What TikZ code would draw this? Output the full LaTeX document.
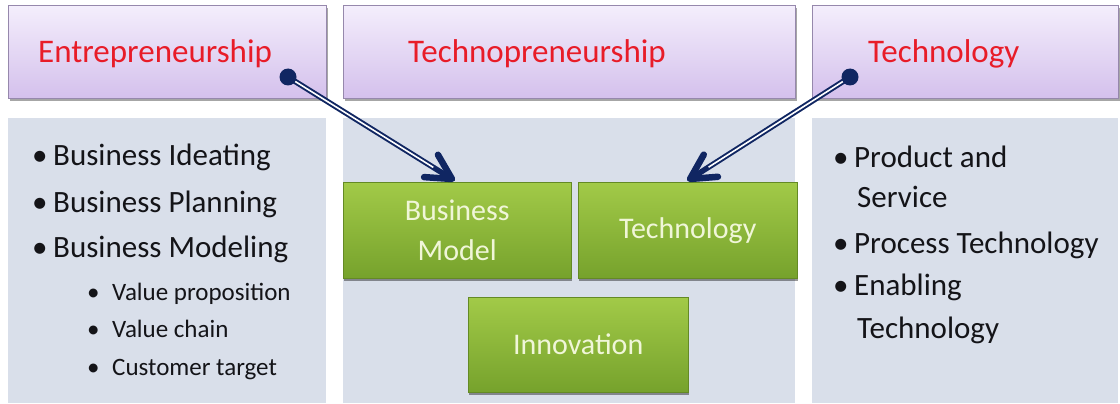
\documentclass[tikz,border=0pt]{standalone}
\usepackage{fontspec}
\setmainfont{Carlito}
\usetikzlibrary{shadows,calc}
\definecolor{navy}{RGB}{16,38,98}
\definecolor{hdrred}{RGB}{232,28,40}
\definecolor{hdrtop}{RGB}{244,238,252}
\definecolor{hdrbot}{RGB}{212,192,236}
\definecolor{hdrline}{RGB}{150,136,172}
\definecolor{panelfill}{RGB}{217,223,234}
\definecolor{gtop}{RGB}{162,202,72}
\definecolor{gbot}{RGB}{118,162,44}
\definecolor{gtext}{RGB}{240,246,216}
\definecolor{itemtext}{RGB}{20,20,24}
\pgfdeclarelayer{front}
\pgfsetlayers{main,front}
\newcommand\bulA{\makebox[21pt][l]{\textbullet}}
\newcommand\bulB{\makebox[25pt][l]{\textbullet}}
\begin{document}
\begin{tikzpicture}[x=1pt,y=-1pt,
  hdrbox/.style={anchor=north west, draw=hdrline, line width=1pt, top color=hdrtop, bottom color=hdrbot,
    minimum height=93pt, inner sep=0pt,
    drop shadow={shadow xshift=1.5pt, shadow yshift=-2.5pt, opacity=0.35, fill=black}},
  hdrtext/.style={anchor=base west, inner sep=0pt, text=hdrred, font=\fontsize{33pt}{38pt}\selectfont},
  panel/.style={anchor=north west, fill=panelfill, minimum height=285pt, inner sep=0pt},
  gbox/.style={anchor=north west, top color=gtop, bottom color=gbot, draw=gbot!85!black, line width=0.4pt,
    minimum height=96pt, inner sep=0pt, text=gtext, align=center,
    font=\fontsize{30pt}{40pt}\selectfont,
    drop shadow={shadow xshift=1pt, shadow yshift=-2.5pt, opacity=0.4, fill=black}},
  itemA/.style={anchor=base west, inner sep=0pt, text=itemtext, font=\fontsize{31pt}{38pt}\selectfont},
  itemB/.style={anchor=base west, inner sep=0pt, text=itemtext, font=\fontsize{25pt}{30pt}\selectfont},
  dotn/.style={circle, fill=navy, minimum size=17pt, inner sep=0pt},
  shaft/.style={draw=navy, line width=5.5pt, shorten >=4pt},
  shaftin/.style={draw=white, line width=1.6pt, shorten >=22pt, shorten <=6pt},
  chevron/.style={draw=navy, line width=6.5pt, line cap=round, line join=round}
]
\useasboundingbox (0,0) rectangle (1120,404);
\fill[white] (0,0) rectangle (1120,404);

% headers
\node[hdrbox, minimum width=318pt] (hL) at (8,5) {};
\node[hdrbox, minimum width=452pt] (hM) at (343,5) {};
\node[hdrbox, minimum width=306pt] (hR) at (812,5) {};
\node[hdrtext] (tL) at (38,63) {Entrepreneurship};
\node[hdrtext] (tM) at (408,63) {Technopreneurship};
\node[hdrtext] (tR) at (868,63) {Technology};

% lower panels
\node[panel, minimum width=318pt] (pL) at (8,118) {};
\node[panel, minimum width=452pt] (pM) at (343,118) {};
\node[panel, minimum width=306pt] (pR) at (812,118) {};

% left list
\node[itemA] (l1) at (32,165) {\bulA Business Ideating};
\node[itemA] (l2) at (32,212) {\bulA Business Planning};
\node[itemA] (l3) at (32,257) {\bulA Business Modeling};
\node[itemB] (l4) at (87,300) {\bulB Value proposition};
\node[itemB] (l5) at (87,337) {\bulB Value chain};
\node[itemB] (l6) at (87,375) {\bulB Customer target};

% right list
\node[itemA] (r1) at (833,167) {\bulA Product and};
\node[itemA] (r1b) at (857,207) {Service};
\node[itemA] (r2) at (833,253) {\bulA Process Technology};
\node[itemA] (r3) at (833,295) {\bulA Enabling};
\node[itemA] (r3b) at (857,338) {Technology};

% green boxes
\node[gbox, minimum width=228pt] (gB) at (343,182) {Business\\Model};
\node[gbox, minimum width=219pt] (gT) at (578,182) {Technology};
\node[gbox, minimum width=220pt, minimum height=95pt] (gI) at (468,297) {Innovation};

% arrows
\begin{pgfonlayer}{front}
\node[dotn] (d1) at (288,77) {};
\node[dotn] (d2) at (850,77) {};
\end{pgfonlayer}
\coordinate (a1) at (452,179);
\coordinate (a2) at (690,179);
\draw[shaft] (d1.center) -- (a1);
\draw[shaftin] (d1.center) -- (a1);
\draw[chevron] ($(a1)!28pt!28:(d1)$) -- (a1) -- ($(a1)!28pt!-28:(d1)$);
\draw[shaft] (d2.center) -- (a2);
\draw[shaftin] (d2.center) -- (a2);
\draw[chevron] ($(a2)!28pt!28:(d2)$) -- (a2) -- ($(a2)!28pt!-28:(d2)$);
\end{tikzpicture}
\end{document}
